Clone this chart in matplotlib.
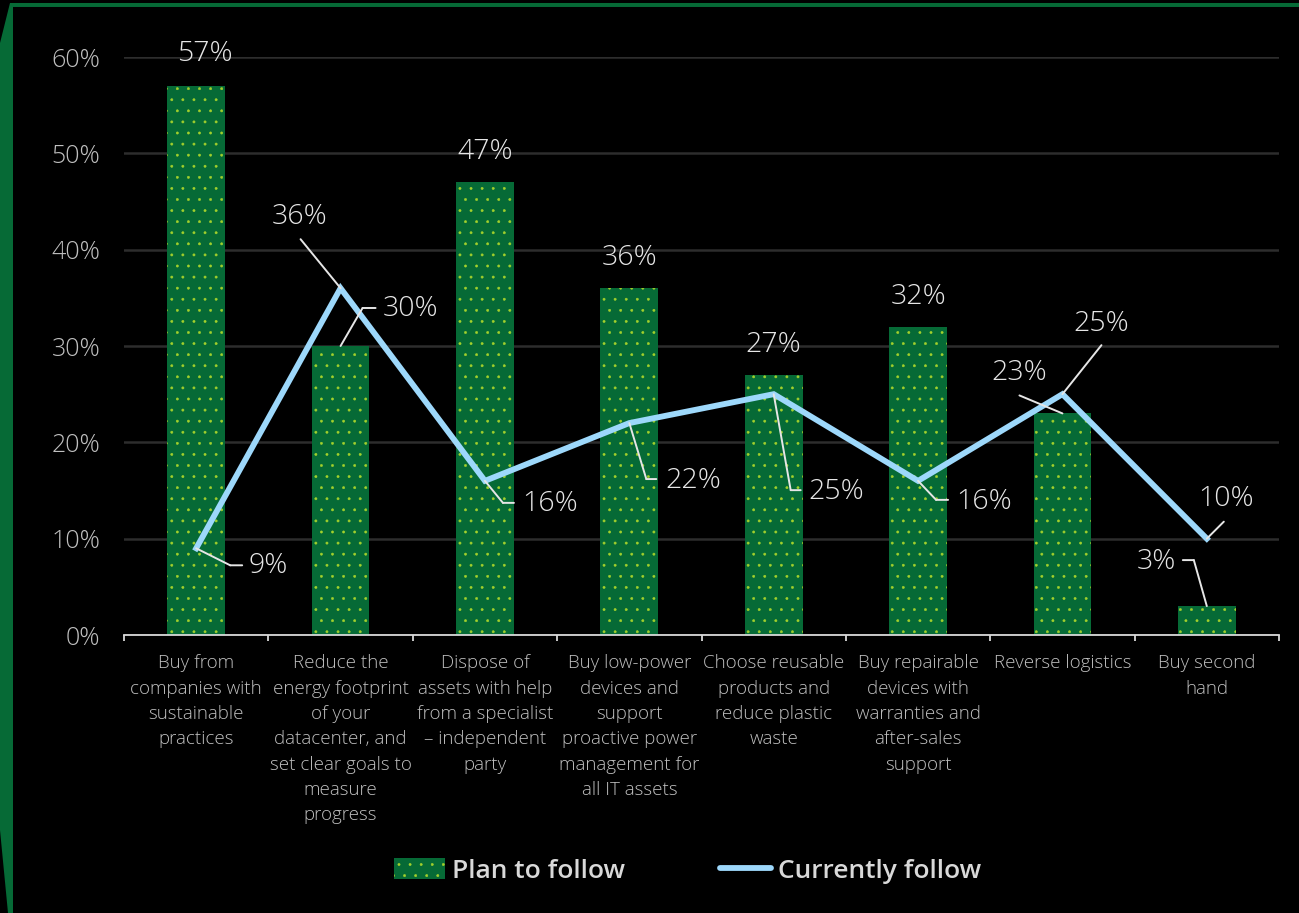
import matplotlib
matplotlib.use("Agg")
import matplotlib.pyplot as plt
import matplotlib.transforms as mtransforms
from matplotlib.patches import Polygon, Patch
from matplotlib.lines import Line2D

# ---- data ---------------------------------------------------------------
categories = [
    "Buy from\ncompanies with\nsustainable\npractices",
    "Reduce the\nenergy footprint\nof your\ndatacenter, and\nset clear goals to\nmeasure\nprogress",
    "Dispose of\nassets with help\nfrom a specialist\n\u2013 independent\nparty",
    "Buy low-power\ndevices and\nsupport\nproactive power\nmanagement for\nall IT assets",
    "Choose reusable\nproducts and\nreduce plastic\nwaste",
    "Buy repairable\ndevices with\nwarranties and\nafter-sales\nsupport",
    "Reverse logistics",
    "Buy second\nhand",
]
plan_to_follow = [57, 30, 47, 36, 27, 32, 23, 3]
currently_follow = [9, 36, 16, 22, 25, 16, 25, 10]
y_ticks = [0, 10, 20, 30, 40, 50, 60]
series_names = ["Plan to follow", "Currently follow"]

# ---- style ---------------------------------------------------------------
BG = "#000000"
GREEN = "#066a36"
DOT = "#a3d12c"
BLUE = "#9dd8fb"
GRID = "#2d2d2d"
TICK_TXT = "#bfbfbf"
LABEL_TXT = "#e6e6e6"
LEADER = "#e6e6e6"
FONT = ["Open Sans", "DejaVu Sans"]

# the hatch tile is one inch, so the dpi sets the dot spacing;
# point sizes below are expressed for a 100-dpi layout and rescaled
DPI = 133
S = 100 / DPI


def pt(v):
    return v * S


plt.rcParams["font.family"] = FONT
plt.rcParams["hatch.linewidth"] = pt(0.4)

W, H = 1299, 913
fig = plt.figure(figsize=((W + 0.01) / DPI, (H + 0.01) / DPI), dpi=DPI,
                 facecolor=BG)
ax = fig.add_axes([124 / W, 1 - 635 / H, (1279 - 124) / W, (635 - 57) / H])
ax.set_facecolor(BG)

# frame decoration: top rule and bevelled left strip
frame = [(0, 43), (10, 3), (W, 3), (W, 7), (13, 7), (13, H), (8, H), (0, 830)]
fig.patches.append(Polygon([(x / W, 1 - y / H) for x, y in frame], closed=True,
                           transform=fig.transFigure, facecolor=GREEN,
                           edgecolor="none", zorder=0))

x = list(range(len(categories)))

ax.bar(x, plan_to_follow, width=0.4, color=GREEN, edgecolor=DOT, linewidth=0,
       hatch="..", zorder=2)
ax.plot(x, currently_follow, color=BLUE, lw=pt(4.2), solid_joinstyle="miter",
        zorder=3)

ax.set_xlim(-0.5, len(categories) - 0.5)
ax.set_ylim(0, 60)
ax.set_yticks(y_ticks)
ax.set_yticklabels([f"{v}%" for v in y_ticks])
ax.grid(axis="y", color=GRID, lw=pt(1.8), zorder=0)
ax.set_axisbelow(True)

for s in ["top", "right", "left"]:
    ax.spines[s].set_visible(False)
ax.spines["bottom"].set_color("#d9d9d9")
ax.spines["bottom"].set_linewidth(pt(1.3))
ax.spines["bottom"].set_zorder(4)

ax.set_xticks(x)
ax.set_xticklabels(categories, fontsize=pt(13.5), color=TICK_TXT,
                   fontweight="light", linespacing=1.52, va="top")
ax.set_xticks([i - 0.5 for i in range(len(categories) + 1)], minor=True)
ax.tick_params(axis="x", which="major", length=0, pad=pt(14))
ax.tick_params(axis="x", which="minor", length=pt(4), width=pt(1.3),
               color="#d9d9d9")
ax.tick_params(axis="y", length=0, pad=pt(17), labelsize=pt(18),
               labelcolor=TICK_TXT)
for t in ax.get_yticklabels():
    t.set_fontweight("light")


def off(dx, dy):
    return mtransforms.offset_copy(ax.transData, fig=fig, x=dx, y=dy,
                                   units="dots")


def leader(xv, yv, pts):
    """Draw a leader polyline from a data point through pixel offsets."""
    path = [(0, 0)] + pts
    for (ax0, ay0), (ax1, ay1) in zip(path[:-1], path[1:]):
        ax.annotate("", xy=(xv, yv), xycoords=off(ax0, ay0),
                    xytext=(xv, yv), textcoords=off(ax1, ay1),
                    arrowprops=dict(arrowstyle="-", color=LEADER, lw=pt(1.4),
                                    shrinkA=0, shrinkB=0),
                    zorder=5)


def label(xv, yv, value, dx, dy, ha="center"):
    ax.text(xv, yv, f"{value}%", transform=off(dx, dy), ha=ha, va="center",
            fontsize=pt(20.5), color=LABEL_TXT, fontweight="light", zorder=6)


# plan-to-follow labels: (leader offsets, text offset, alignment)
plan_cfg = {
    0: (None, (9, 32), "center"),
    1: ([(22, 38), (35, 38)], (42, 37), "left"),
    2: (None, (0, 30), "center"),
    3: (None, (0, 30), "center"),
    4: (None, (0, 30), "center"),
    5: (None, (0, 30), "center"),
    6: ([(-43, 18)], (-43, 40), "center"),
    7: ([(-13, 46), (-24, 46)], (-31, 44), "right"),
}
cur_cfg = {
    0: ([(34, -17), (46, -17)], (52, -18), "left"),
    1: ([(-40, 49)], (-41, 71), "center"),
    2: ([(18, -22), (29, -22)], (37, -23), "left"),
    3: ([(17, -56), (27, -56)], (36, -58), "left"),
    4: ([(17, -96), (27, -96)], (35, -98), "left"),
    5: ([(18, -19), (30, -19)], (38, -21), "left"),
    6: ([(39, 49)], (39, 70), "center"),
    7: ([(17, 17)], (19, 40), "center"),
}

for i, v in enumerate(plan_to_follow):
    pts, (dx, dy), ha = plan_cfg[i]
    if pts:
        leader(i, v, pts)
    label(i, v, v, dx, dy, ha)

for i, v in enumerate(currently_follow):
    pts, (dx, dy), ha = cur_cfg[i]
    if pts:
        leader(i, v, pts)
    label(i, v, v, dx, dy, ha)

handles = [
    Patch(facecolor=GREEN, edgecolor=DOT, linewidth=0, hatch=".."),
    Line2D([0], [0], color=BLUE, lw=pt(4.2), solid_capstyle="round"),
]
leg = fig.legend(handles, series_names, loc="center",
                 bbox_to_anchor=(688 / W, 1 - 871 / H), ncol=2, frameon=False,
                 prop=dict(family=FONT, size=pt(19), weight="semibold"),
                 handlelength=1.9, handleheight=0.8, handletextpad=0.3,
                 columnspacing=3.6, labelcolor="#d9d9d9")

fig.savefig("out.png", dpi=DPI, facecolor=BG)
